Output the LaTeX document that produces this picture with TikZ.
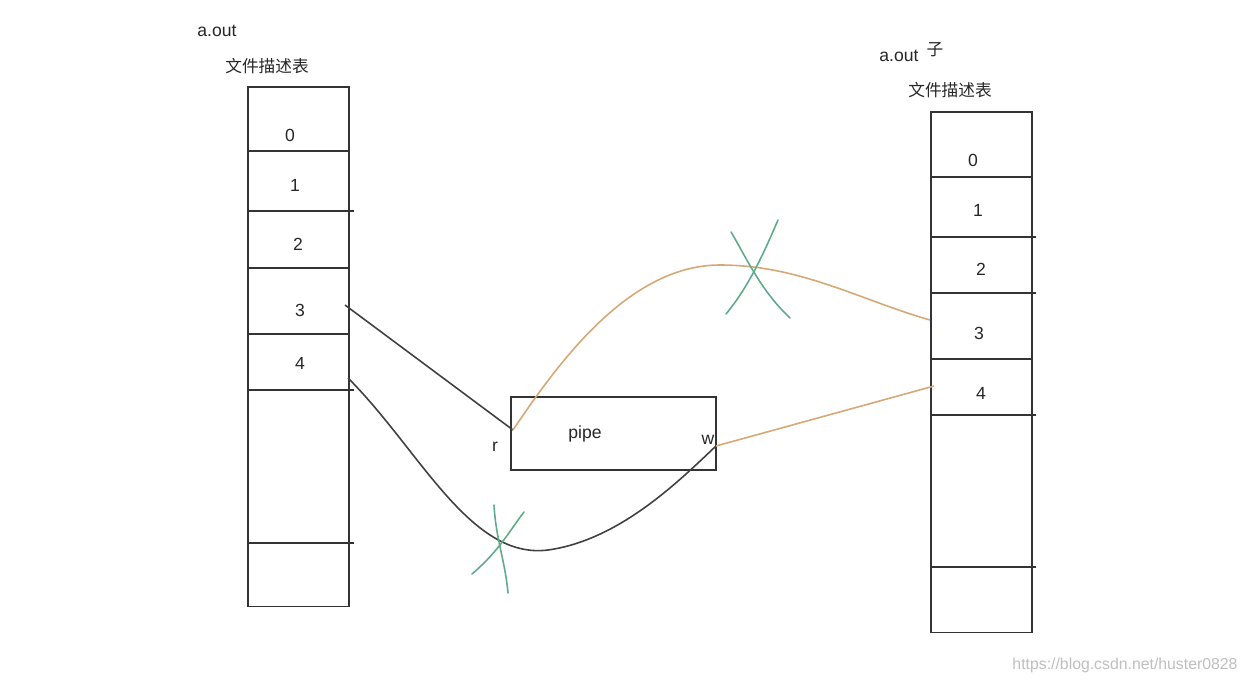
\documentclass[tikz,border=0pt]{standalone}
\usepackage{fontspec}
\setmainfont{Liberation Sans}
\newfontfamily\cjk{Noto Sans CJK SC}
\definecolor{tan}{RGB}{214,168,118}
\definecolor{mgreen}{RGB}{96,170,140}
\begin{document}
\begin{tikzpicture}[x=0.02cm,y=-0.02cm,
  tbl/.style={draw=black!80,line width=0.9pt},
  rowline/.style={draw=black!80,line width=0.9pt},
  lbl/.style={font=\fontsize{10}{12}\selectfont,text=black!85,inner sep=0pt},
  cn/.style={font=\cjk\fontsize{9.5}{11}\selectfont,text=black!85,inner sep=0pt},
  blk/.style={draw=black!75,line width=0.9pt},
  org/.style={draw=tan,line width=0.9pt},
  grn/.style={draw=mgreen,line width=0.9pt,line cap=round}]
\useasboundingbox (0,0) rectangle (1253,686);
% left table
\node[tbl,minimum width=2.02cm,minimum height=10.4cm,anchor=north west,inner sep=0pt] (L) at (247,86) {};
\foreach \yy/\xe in {151/348,211/354,268/348,334/348,390/354,543/354}
  \draw[rowline] (247,\yy) -- (\xe,\yy);
\node[lbl] (l0) at (290,135) {0};
\node[lbl] (l1) at (295,185) {1};
\node[lbl] (l2) at (298,244) {2};
\node[lbl] (l3) at (300,310) {3};
\node[lbl] (l4) at (300,363) {4};
\node[lbl,anchor=west] (t1) at (197,31) {a.out};
\node[cn,anchor=west] (t2) at (225,66) {文件描述表};
% right table
\node[tbl,minimum width=2.02cm,minimum height=10.42cm,anchor=north west,inner sep=0pt] (R) at (930,111) {};
\foreach \yy/\xe in {177/1031,237/1036,293/1036,359/1031,415/1036,567/1036}
  \draw[rowline] (930,\yy) -- (\xe,\yy);
\node[lbl] (r0) at (973,160) {0};
\node[lbl] (r1) at (978,210) {1};
\node[lbl] (r2) at (981,269) {2};
\node[lbl] (r3) at (979,333) {3};
\node[lbl] (r4) at (981,393) {4};
\node[lbl,anchor=west] (t3) at (879,56) {a.out};
\node[cn] (t4) at (935,50) {子};
\node[cn,anchor=west] (t5) at (908,90) {文件描述表};
% pipe
\node[tbl,minimum width=4.1cm,minimum height=1.46cm,anchor=north west,inner sep=0pt] (P) at (510,396) {};
\node[lbl] (pt) at (585,434) {pipe};
\node[lbl] (pr) at (495,447) {r};
\node[lbl] (pw) at (708,440) {w};
\coordinate (Pr) at (513,430);
\coordinate (Pw) at (716,446);
\coordinate (L3) at (345,305);
\coordinate (L4) at (348,378);
\coordinate (R3) at (930,320);
\coordinate (R4) at (934,386);
% connectors
\draw[blk] (L3) -- (Pr);
\draw[blk] (L4) .. controls (420,450) and (470,560) .. (548,550) .. controls (620,540) and (680,480) .. (Pw);
\draw[org] (Pr) .. controls (560,360) and (630,265) .. (720,265) .. controls (800,265) and (860,300) .. (R3);
\draw[org] (Pw) -- (R4);
% green crosses
\draw[grn] (494,505) .. controls (496,540) and (505,560) .. (508,593);
\draw[grn] (524,512) .. controls (510,530) and (500,550) .. (472,574);
\draw[grn] (731,232) .. controls (745,255) and (760,290) .. (790,318);
\draw[grn] (778,220) .. controls (765,250) and (750,285) .. (726,314);
% watermark
\node[font=\fontsize{9}{11}\selectfont,text=black!25,inner sep=0pt] (wm) at (1125,665) {https://blog.csdn.net/huster0828};
\end{tikzpicture}
\end{document}
